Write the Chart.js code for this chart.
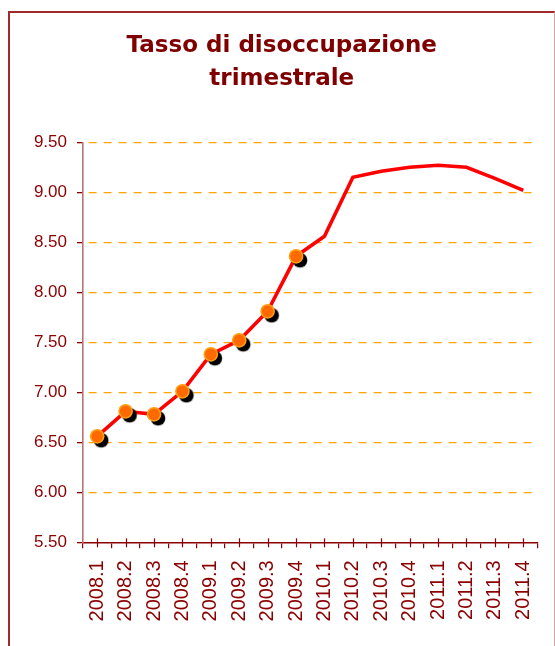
<!DOCTYPE html>
<html>
<head>
<meta charset="utf-8">
<script src="https://cdn.jsdelivr.net/npm/chart.js@4/dist/chart.umd.min.js"></script>
<style>
  html, body { margin: 0; padding: 0; background: #ffffff; overflow: hidden; width: 555px; height: 646px; }
  #frame { position: absolute; left: 8px; top: 11px; width: 544px; height: 640px;
           border-left: 2px solid #9e2a2a; border-top: 2px solid #9e2a2a; border-right: 1px solid #d9a3a3; }
  #wrap { position: absolute; left: 0; top: 0; width: 555px; height: 646px; }
</style>
</head>
<body>
<div id="frame"></div>
<div id="wrap"><canvas id="c"></canvas></div>
<script>
// ---- data ----
const quarters = ['2008.1','2008.2','2008.3','2008.4','2009.1','2009.2','2009.3','2009.4',
                  '2010.1','2010.2','2010.3','2010.4','2011.1','2011.2','2011.3','2011.4'];
const rate = [6.56, 6.81, 6.78, 7.01, 7.38, 7.52, 7.81, 8.36,
              8.56, 9.15, 9.21, 9.25, 9.27, 9.25, 9.14, 9.02];
const observedCount = 8;
const observed = rate.slice(0, observedCount);
const titleLines = ['Tasso di disoccupazione', 'trimestrale'];

// ---- styles ----
const darkRed = '#8b0000';

const shadow = document.createElement('canvas');
shadow.width = 34; shadow.height = 34;
(function () {
  const g = shadow.getContext('2d');
  g.fillStyle = '#000000';
  g.beginPath();
  g.arc(17 + 4, 17 + 4, 7.3, 0, Math.PI * 2);
  g.fill();
})();

const centerTicks = {
  id: 'centerTicks',
  afterDraw(chart) {
    const x = chart.scales.x, ctx = chart.ctx, b = chart.chartArea.bottom;
    ctx.save();
    ctx.strokeStyle = darkRed;
    ctx.lineWidth = 1.2;
    quarters.forEach((q, i) => {
      const px = Math.round(x.getPixelForValue(i)) + 0.5;
      ctx.beginPath();
      ctx.moveTo(px, b - 4);
      ctx.lineTo(px, b + 5);
      ctx.stroke();
    });
    ctx.restore();
  }
};

new Chart(document.getElementById('c'), {
  type: 'line',
  data: {
    labels: quarters,
    datasets: [
      { label: 'tasso', data: rate, borderColor: '#ff0000', borderWidth: 3.6,
        pointRadius: 0, tension: 0, fill: false, order: 3 },
      { label: 'ombra', data: observed, showLine: false, pointStyle: shadow,
        pointRadius: 7, order: 2 },
      { label: 'osservato', data: observed, showLine: false,
        pointRadius: 6.6, pointBackgroundColor: '#ff6a00', pointBorderColor: '#ffa011',
        pointBorderWidth: 1.5, order: 1 }
    ]
  },
  options: {
    responsive: true,
    maintainAspectRatio: false,
    animation: false,
    layout: { padding: { left: 26, right: 17.5, top: 0, bottom: 0 } },
    plugins: {
      legend: { display: false },
      tooltip: { enabled: false },
      title: {
        display: true,
        text: titleLines,
        color: '#7f0000',
        font: { family: "'DejaVu Sans', Verdana, sans-serif", size: 23, weight: 'bold', lineHeight: 1.435 },
        padding: { top: 30, bottom: 46.3 }
      }
    },
    scales: {
      x: {
        offset: true,
        afterFit(s) { s.height = 103.7; s.paddingLeft = 0; s.paddingRight = 0; },
        grid: { display: true, drawOnChartArea: false, offset: true, tickLength: 6,
                color: darkRed, tickColor: darkRed, lineWidth: 1.2 },
        border: { display: true, color: darkRed, width: 1.5 },
        ticks: { autoSkip: false, minRotation: 90, maxRotation: 90, padding: 12,
                 color: darkRed, font: { family: "'Liberation Sans', Arial, sans-serif", size: 20 } }
      },
      y: {
        min: 5.5, max: 9.5,
        afterFit(s) { s.width = 57; },
        grid: {
          color: (c) => (c.tick && c.tick.value === 5.5) ? 'rgba(0,0,0,0)' : '#ffa500',
          tickColor: darkRed, lineWidth: 1.3, tickLength: 6
        },
        border: { display: true, color: '#b87474', width: 1.6, dash: [8, 7], dashOffset: 10 },
        ticks: { stepSize: 0.5, padding: 10, color: darkRed,
                 font: { family: "'Liberation Sans', Arial, sans-serif", size: 17 },
                 callback: (v) => Number(v).toFixed(2) }
      }
    }
  },
  plugins: [centerTicks]
});
</script>
</body>
</html>
